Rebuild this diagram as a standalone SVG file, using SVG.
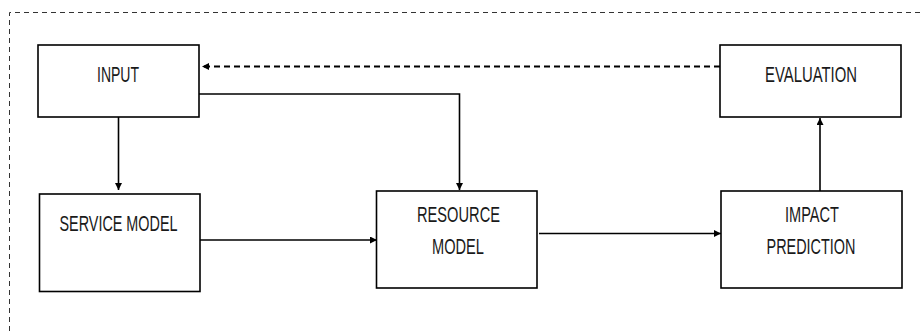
<svg xmlns="http://www.w3.org/2000/svg" width="920" height="332" viewBox="0 0 920 332">
  <style>
    .box { fill: #ffffff; stroke: #000000; stroke-width: 1.6; }
    .lbl { font-family: "Liberation Sans Narrow", "Arial Narrow", "Liberation Sans", sans-serif; font-size: 21.5px; fill: #1a1a1a; text-anchor: middle; }
    .conn { fill: none; stroke: #000000; stroke-width: 1.6; }
    .dash { fill: none; stroke: #000000; stroke-width: 2; stroke-dasharray: 6 4; }
    .frame { fill: none; stroke: #333333; stroke-width: 1; stroke-dasharray: 5 4; }
  </style>
  <defs>
    <marker id="arr" viewBox="0 0 10 10" refX="10" refY="5" markerWidth="7" markerHeight="7" markerUnits="userSpaceOnUse" orient="auto">
      <path d="M0,0 L10,5 L0,10 z" fill="#000000"/>
    </marker>
  </defs>
  <rect width="920" height="332" fill="#ffffff"/>
  <path class="frame" d="M9.5,340 V12.5 H930"/>

  <g id="connectors">
    <path class="conn" d="M118.5,117 V190" marker-end="url(#arr)"/>
    <path class="conn" d="M199,94 H459.5 V190" marker-end="url(#arr)"/>
    <path class="conn" d="M199,240 H377" marker-end="url(#arr)"/>
    <path class="conn" d="M539,233.5 H721" marker-end="url(#arr)"/>
    <path class="conn" d="M820,191 V118" marker-end="url(#arr)"/>
    <path class="dash" d="M720,66.5 H202" marker-end="url(#arr)"/>
  </g>

  <g id="input">
    <rect class="box" x="38" y="45" width="161" height="72"/>
    <text class="lbl" x="118" y="81.5" textLength="42" lengthAdjust="spacingAndGlyphs">INPUT</text>
  </g>
  <g id="evaluation">
    <rect class="box" x="720" y="45" width="181" height="72"/>
    <text class="lbl" x="811" y="81.5" textLength="92" lengthAdjust="spacingAndGlyphs">EVALUATION</text>
  </g>
  <g id="service-model">
    <rect class="box" x="39.5" y="194" width="160.5" height="97.5"/>
    <text class="lbl" x="118.5" y="231" textLength="118" lengthAdjust="spacingAndGlyphs">SERVICE MODEL</text>
  </g>
  <g id="resource-model">
    <rect class="box" x="376.5" y="191" width="160.5" height="97"/>
    <text class="lbl" x="458.5" y="222.3" textLength="83" lengthAdjust="spacingAndGlyphs">RESOURCE</text>
    <text class="lbl" x="458" y="254.3" textLength="52" lengthAdjust="spacingAndGlyphs">MODEL</text>
  </g>
  <g id="impact-prediction">
    <rect class="box" x="721" y="191" width="181" height="97"/>
    <text class="lbl" x="812" y="222.3" textLength="54" lengthAdjust="spacingAndGlyphs">IMPACT</text>
    <text class="lbl" x="811" y="254.3" textLength="89" lengthAdjust="spacingAndGlyphs">PREDICTION</text>
  </g>
</svg>
